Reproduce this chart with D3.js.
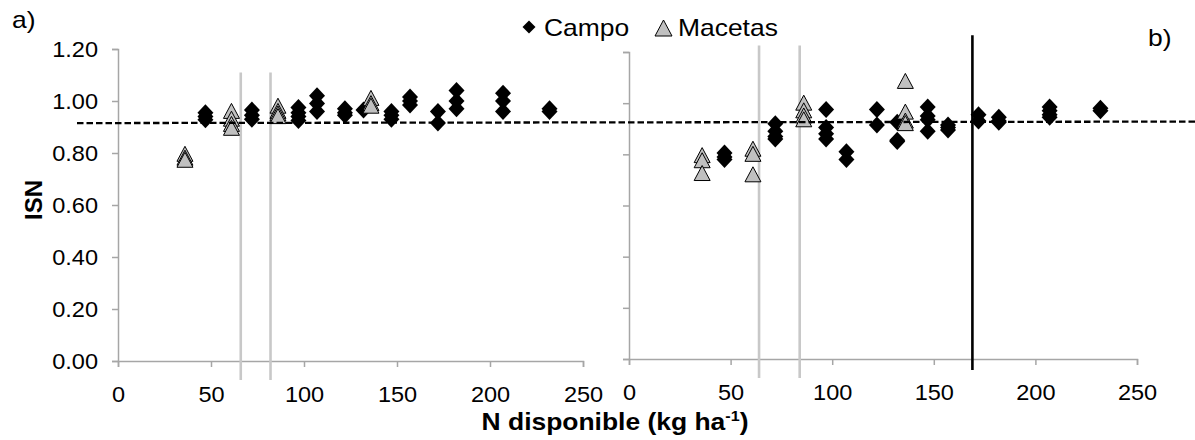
<!DOCTYPE html>
<html><head><meta charset="utf-8">
<script src="https://cdn.jsdelivr.net/npm/d3@7"></script>
<style>
body{margin:0;background:#fff}
svg{display:block}
text{font-family:"Liberation Sans",Arial,sans-serif;fill:#000}
.s{transform-box:fill-box}
.sl{transform-origin:left center}
.sr{transform-origin:right center}
.sc{transform-origin:center center}
</style></head><body>
<svg id="c" width="1195" height="440"></svg>
<script>
// ---- data ----
const xTicks = [0, 50, 100, 150, 200, 250];
const yTicks = [0, 0.2, 0.4, 0.6, 0.8, 1.0, 1.2];
const seriesNames = ["Campo", "Macetas"];
// panel a) [N disponible, ISN]
const campoA = [[47,0.955],[47,0.94],[47,0.928],[72,0.965],[72,0.945],[72,0.93],
  [97,0.975],[97,0.955],[97,0.94],[97,0.925],[107,1.02],[107,0.99],[107,0.96],
  [122,0.97],[122,0.955],[122,0.945],[132,0.965],[147,0.96],[147,0.945],[147,0.93],
  [157,1.015],[157,1.0],[157,0.985],[172,0.96],[172,0.915],[182,1.04],[182,1.0],[182,0.97],
  [207,1.03],[207,1.0],[207,0.96],[232,0.97],[232,0.96]];
const macetasA = [[36,0.795],[36,0.78],[36,0.772],[61,0.96],[61,0.93],[61,0.91],[61,0.895],
  [86,0.98],[86,0.96],[86,0.95],[86,0.94],[136,1.01],[136,0.99],[136,0.98]];
// panel b)
const campoB = [[47,0.805],[47,0.79],[47,0.78],[72,0.92],[72,0.89],[72,0.87],[72,0.86],
  [97,0.975],[97,0.905],[97,0.88],[97,0.86],[107,0.81],[107,0.78],[122,0.975],[122,0.915],
  [132,0.925],[132,0.855],[132,0.85],[147,0.985],[147,0.95],[147,0.935],[147,0.89],
  [157,0.915],[157,0.905],[157,0.895],[172,0.955],[172,0.93],[182,0.945],[182,0.93],[182,0.925],
  [207,0.985],[207,0.97],[207,0.955],[207,0.945],[232,0.98],[232,0.97]];
const macetasB = [[36,0.795],[36,0.775],[36,0.725],[61,0.82],[61,0.80],[61,0.72],
  [86,1.0],[86,0.97],[86,0.95],[86,0.935],[136,1.085],[136,0.965],[136,0.93],[136,0.92]];
// reference lines
const greyRefA = [66, 82];
const greyRefB = [64, 84];
const blackRefB = [169];
const isnRefA = 0.915, isnRefB = 0.928;

// ---- drawing ----
const svg = d3.select("#c");
const W = 1195;
const xA = d3.scaleLinear([0,250],[118,583]), yA = d3.scaleLinear([0,1.2],[361,49]);
const xB = d3.scaleLinear([0,250],[629,1137]), yB = d3.scaleLinear([0,1.2],[359,52]);
const AX = "#a6a6a6";

function styleAxis(g){
  g.selectAll("path.domain").attr("stroke", AX).attr("stroke-width", 1.5);
  g.selectAll(".tick line").attr("stroke", AX).attr("stroke-width", 1.5);
  g.selectAll("text").attr("font-size", 22).attr("font-family", '"Liberation Sans",Arial,sans-serif').attr("fill","#000");
}

function panel(x, y, campo, macetas, grey, black, greyTop, showYLabels){
  // y axis
  const ya = svg.append("g").attr("transform", `translate(${x(0)},0)`)
    .call(d3.axisLeft(y).tickValues(yTicks).tickSize(6).tickSizeOuter(6).tickPadding(14)
      .tickFormat(showYLabels ? d3.format(".2f") : ""));
  styleAxis(ya);
  ya.selectAll("text").attr("class","s sr").style("transform","scaleX(1.07)");
  // x axis
  const xa = svg.append("g").attr("transform", `translate(0,${y(0)})`)
    .call(d3.axisBottom(x).tickValues(xTicks).tickSize(6).tickSizeOuter(6).tickPadding(19).tickFormat(d3.format("d")));
  styleAxis(xa);
  xa.selectAll("text").attr("class","s sc").style("transform","scaleX(1.07)");
  // grey vertical reference lines
  svg.append("g").selectAll("line").data(grey).join("line")
    .attr("x1", d => x(d)).attr("x2", d => x(d))
    .attr("y1", y(greyTop)).attr("y2", y(0) + 19)
    .attr("stroke", "#c8c8c8").attr("stroke-width", 2.6);
  svg.append("g").selectAll("line").data(black).join("line")
    .attr("x1", d => x(d)).attr("x2", d => x(d))
    .attr("y1", y(1.265)).attr("y2", y(0) + 11)
    .attr("stroke", "#000").attr("stroke-width", 2.6);
  // markers
  svg.append("g").selectAll("path").data(campo).join("path")
    .attr("transform", d => `translate(${x(d[0])},${y(d[1])}) scale(1,1.06)`)
    .attr("d", "M0,-8L8,0L0,8L-8,0Z").attr("fill", "#000");
  svg.append("g").selectAll("path").data(macetas).join("path")
    .attr("transform", d => `translate(${x(d[0])},${y(d[1])})`)
    .attr("d", "M0,-8L8,7L-8,7Z").attr("fill", "#c0c0c0").attr("stroke", "#000").attr("stroke-width", 1);
}

panel(xA, yA, campoA, macetasA, greyRefA, [], 1.11, true);
panel(xB, yB, campoB, macetasB, greyRefB, blackRefB, 1.225, false);

// dashed ISN reference line across both panels
svg.append("line")
  .attr("x1", 77).attr("y1", yA(isnRefA))
  .attr("x2", W).attr("y2", yB(isnRefB))
  .attr("stroke", "#000").attr("stroke-width", 2.3).attr("stroke-dasharray", "6.5,3");

// legend
const lg = svg.append("g");
lg.append("path").attr("transform","translate(529,27)").attr("d","M0,-6.5L6.5,0L0,6.5L-6.5,0Z").attr("fill","#000");
lg.append("text").attr("x",544).attr("y",36).attr("font-size",23).attr("class","s sl").style("transform","scaleX(1.15)").text(seriesNames[0]);
lg.append("path").attr("transform","translate(663.5,28)").attr("d","M0,-8L8.5,8L-8.5,8Z").attr("fill","#c0c0c0").attr("stroke","#000").attr("stroke-width",1);
lg.append("text").attr("x",678).attr("y",36).attr("font-size",23).attr("class","s sl").style("transform","scaleX(1.15)").text(seriesNames[1]);

// panel labels
svg.append("text").attr("x",12).attr("y",28).attr("font-size",23).attr("class","s sl").style("transform","scaleX(1.15)").text("a)");
svg.append("text").attr("x",1148).attr("y",46).attr("font-size",23).attr("class","s sl").style("transform","scaleX(1.15)").text("b)");

// axis titles
const xt = svg.append("text").attr("x",615).attr("y",430).attr("text-anchor","middle")
  .attr("font-size",23).attr("font-weight","bold").attr("class","s sc").style("transform","scaleX(1.15)");
xt.append("tspan").text("N disponible (kg ha");
xt.append("tspan").attr("font-size",14).attr("dy",-9).text("-1");
xt.append("tspan").attr("dy",9).text(")");
svg.append("text").attr("transform","translate(42,200) rotate(-90)").attr("text-anchor","middle")
  .attr("font-size",24).attr("font-weight","bold").text("ISN");
</script>
</body></html>
